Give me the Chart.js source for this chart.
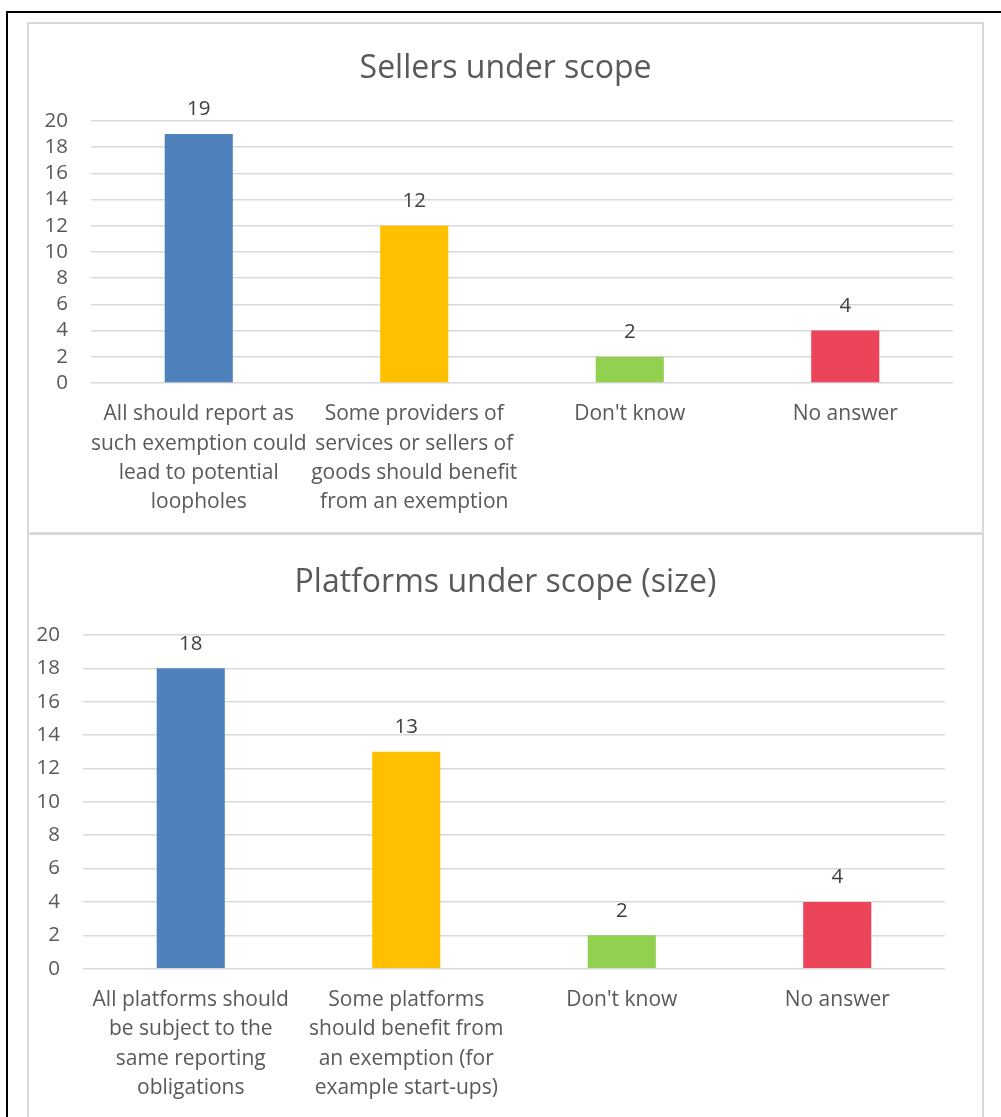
<!DOCTYPE html>
<html>
<head>
<meta charset="utf-8">
<script src="https://cdn.jsdelivr.net/npm/chart.js@4.4.0/dist/chart.umd.min.js"></script>
<style>
  html, body { margin: 0; padding: 0; background: #fff; overflow: hidden; }
  body { width: 1001px; height: 1117px; position: relative; }
  #frame { position: absolute; left: 6px; top: 11px; width: 1100px; height: 1200px;
           border-left: 2px solid #000; border-top: 2px solid #000; }
  .box { position: absolute; left: 27px; width: 953px; border: 2px solid #d9d9d9; background: #fff; }
  #box1 { top: 22px; height: 508px; }
  #box2 { top: 533px; height: 620px; }
  canvas { position: absolute; left: 0; top: 0; }
</style>
</head>
<body>
<div id="frame"></div>
<div class="box" id="box1"><canvas id="sellers" width="953" height="508"></canvas></div>
<div class="box" id="box2"><canvas id="platforms" width="953" height="600"></canvas></div>
<script>
// Data
const sellerTitle = "Sellers under scope";
const sellerLabels = [
  ["All should report as", "such exemption could", "lead to potential", "loopholes"],
  ["Some providers of", "services or sellers of", "goods should benefit", "from an exemption"],
  "Don't know",
  "No answer"
];
const sellerValues = [19, 12, 2, 4];

const platformTitle = "Platforms under scope (size)";
const platformLabels = [
  ["All platforms should", "be subject to the", "same reporting", "obligations"],
  ["Some platforms", "should benefit from", "an exemption (for", "example start-ups)"],
  "Don't know",
  "No answer"
];
const platformValues = [18, 13, 2, 4];

const yMin = 0;
const yMax = 20;
const yStep = 2;

const barColors = ["#4f81bd", "#ffc000", "#92d050", "#ec4559"];
const fontFamily = "'Open Sans', sans-serif";

// value labels above the bars
const barValues = {
  id: "barValues",
  afterDatasetsDraw(chart) {
    const ctx = chart.ctx;
    const meta = chart.getDatasetMeta(0);
    ctx.save();
    ctx.font = "20.5px " + fontFamily;
    ctx.fillStyle = "#404040";
    ctx.textAlign = "center";
    ctx.textBaseline = "middle";
    meta.data.forEach(function (bar, i) {
      ctx.fillText(chart.data.datasets[0].data[i], bar.x, bar.y - 24.5);
    });
    ctx.restore();
  }
};

// title centred on the whole box, not just the plot
const boxTitle = {
  id: "boxTitle",
  afterDraw(chart, args, opts) {
    const ctx = chart.ctx;
    ctx.save();
    ctx.font = "32px " + fontFamily;
    ctx.fillStyle = "#595959";
    ctx.textAlign = "center";
    ctx.textBaseline = "middle";
    ctx.fillText(opts.text, chart.width / 2, opts.y);
    ctx.restore();
  }
};

function makeChart(id, title, labels, values, geo) {
  const ctx = document.getElementById(id).getContext("2d");
  return new Chart(ctx, {
    type: "bar",
    data: {
      labels: labels,
      datasets: [{
        data: values,
        backgroundColor: barColors,
        borderWidth: 0,
        categoryPercentage: 1,
        barPercentage: 0.316
      }]
    },
    options: {
      responsive: false,
      animation: false,
      layout: { padding: { left: 0, top: geo.top, right: geo.right, bottom: 0 } },
      plugins: {
        legend: { display: false },
        tooltip: { enabled: false },
        title: { display: false },
        boxTitle: { text: title, y: geo.titleY }
      },
      scales: {
        x: {
          grid: { display: false, drawTicks: false },
          border: { display: false },
          ticks: {
            color: "#595959",
            padding: 16.5,
            maxRotation: 0,
            autoSkip: false,
            font: { family: fontFamily, size: 21, lineHeight: 1.4 }
          },
          afterFit: function (scale) { scale.height = geo.xHeight; }
        },
        y: {
          min: yMin,
          max: yMax,
          grid: { color: "#d9d9d9", lineWidth: 1.5, drawTicks: false },
          border: { display: false },
          ticks: {
            stepSize: yStep,
            autoSkip: false,
            color: "#595959",
            padding: 23,
            font: { family: fontFamily, size: 20.5 }
          },
          afterFit: function (scale) { scale.width = geo.left; }
        }
      }
    },
    plugins: [barValues, boxTitle]
  });
}

makeChart("sellers", sellerTitle, sellerLabels, sellerValues,
  { left: 62, right: 29, top: 97, titleY: 45, xHeight: 149 });

makeChart("platforms", platformTitle, platformLabels, platformValues,
  { left: 54, right: 37, top: 100, titleY: 48, xHeight: 166.3 });
</script>
</body>
</html>
